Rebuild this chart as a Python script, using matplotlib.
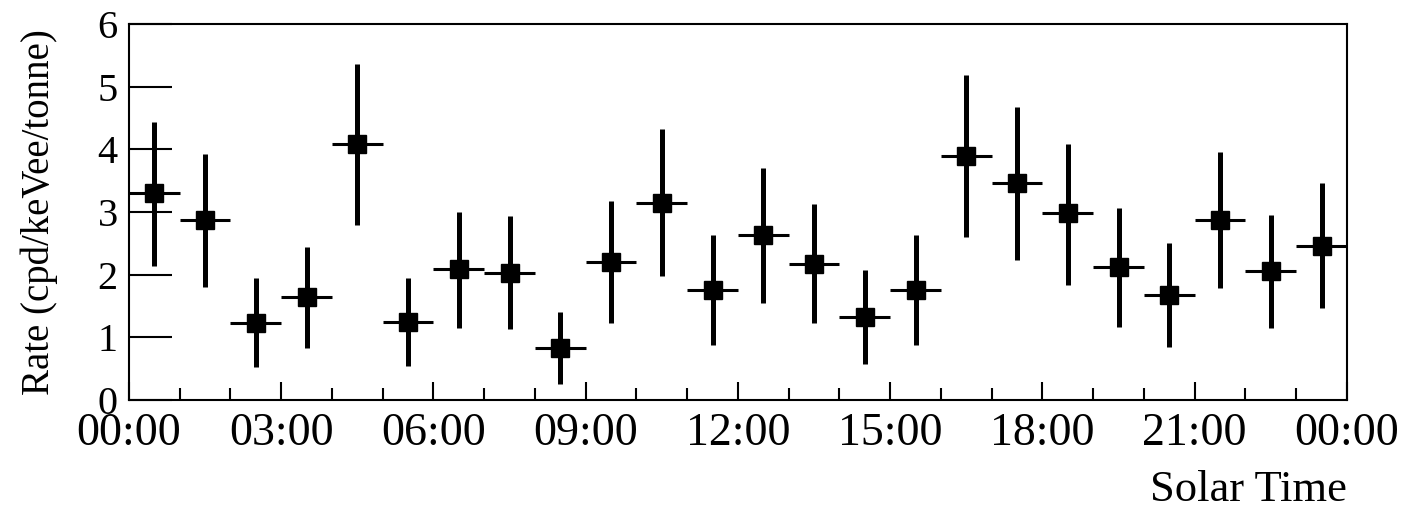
import matplotlib.pyplot as plt
from matplotlib.ticker import MultipleLocator, FuncFormatter

# hourly bins of solar time, value and asymmetric errors (cpd/keVee/tonne)
hours = list(range(24))
rate = [3.30, 2.87, 1.23, 1.65, 4.08, 1.24, 2.09, 2.03, 0.83, 2.20, 3.15, 1.76,
        2.63, 2.17, 1.32, 1.75, 3.90, 3.46, 2.98, 2.12, 1.68, 2.87, 2.05, 2.46]
err_hi = [4.44, 3.93, 1.94, 2.44, 5.37, 1.95, 3.00, 2.93, 1.40, 3.17, 4.33, 2.63,
          3.70, 3.13, 2.07, 2.63, 5.19, 4.68, 4.09, 3.06, 2.51, 3.95, 2.95, 3.46]
err_lo = [2.13, 1.80, 0.53, 0.83, 2.79, 0.54, 1.14, 1.13, 0.25, 1.22, 1.98, 0.88,
          1.55, 1.22, 0.58, 0.88, 2.60, 2.23, 1.83, 1.17, 0.84, 1.78, 1.14, 1.46]

plt.rcParams['font.family'] = ['Liberation Serif', 'DejaVu Serif']

centers = [h + 0.5 for h in hours]
yerr = [[r - lo for r, lo in zip(rate, err_lo)],
        [hi - r for r, hi in zip(rate, err_hi)]]

fig = plt.figure(figsize=(14.06, 5.12), dpi=100)
ax = fig.add_axes([0.0917, 0.219, 0.8663, 0.734])

ax.errorbar(centers, rate, xerr=0.5, fmt='none', ecolor='black', elinewidth=2.2, capsize=0)
ax.errorbar(centers, rate, yerr=yerr, fmt='none', ecolor='black', elinewidth=3.6, capsize=0)
ax.plot(centers, rate, 's', color='black', markersize=13)

ax.set_xlim(0, 24)
ax.set_ylim(0, 6)
ax.xaxis.set_major_locator(MultipleLocator(3))
ax.xaxis.set_minor_locator(MultipleLocator(1))
ax.xaxis.set_major_formatter(FuncFormatter(lambda v, p: "%02d:00" % (int(round(v)) % 24)))
ax.yaxis.set_major_locator(MultipleLocator(1))

ax.tick_params(axis='x', which='major', direction='in', length=13, width=1.5,
               labelsize=33, pad=9, top=False)
ax.tick_params(axis='x', which='minor', direction='in', length=9, width=1.5, top=False)
ax.tick_params(axis='y', which='major', direction='in', length=31, width=1.5,
               labelsize=29, pad=8, right=False)
for s in ax.spines.values():
    s.set_linewidth(1.5)

ax.set_ylabel("Rate (cpd/keVee/tonne)", fontsize=28)
ax.yaxis.set_label_coords(-0.058, 0.5)
ax.set_xlabel("Solar Time", fontsize=32, loc='right', labelpad=11)

fig.savefig("out.png", dpi=100)
